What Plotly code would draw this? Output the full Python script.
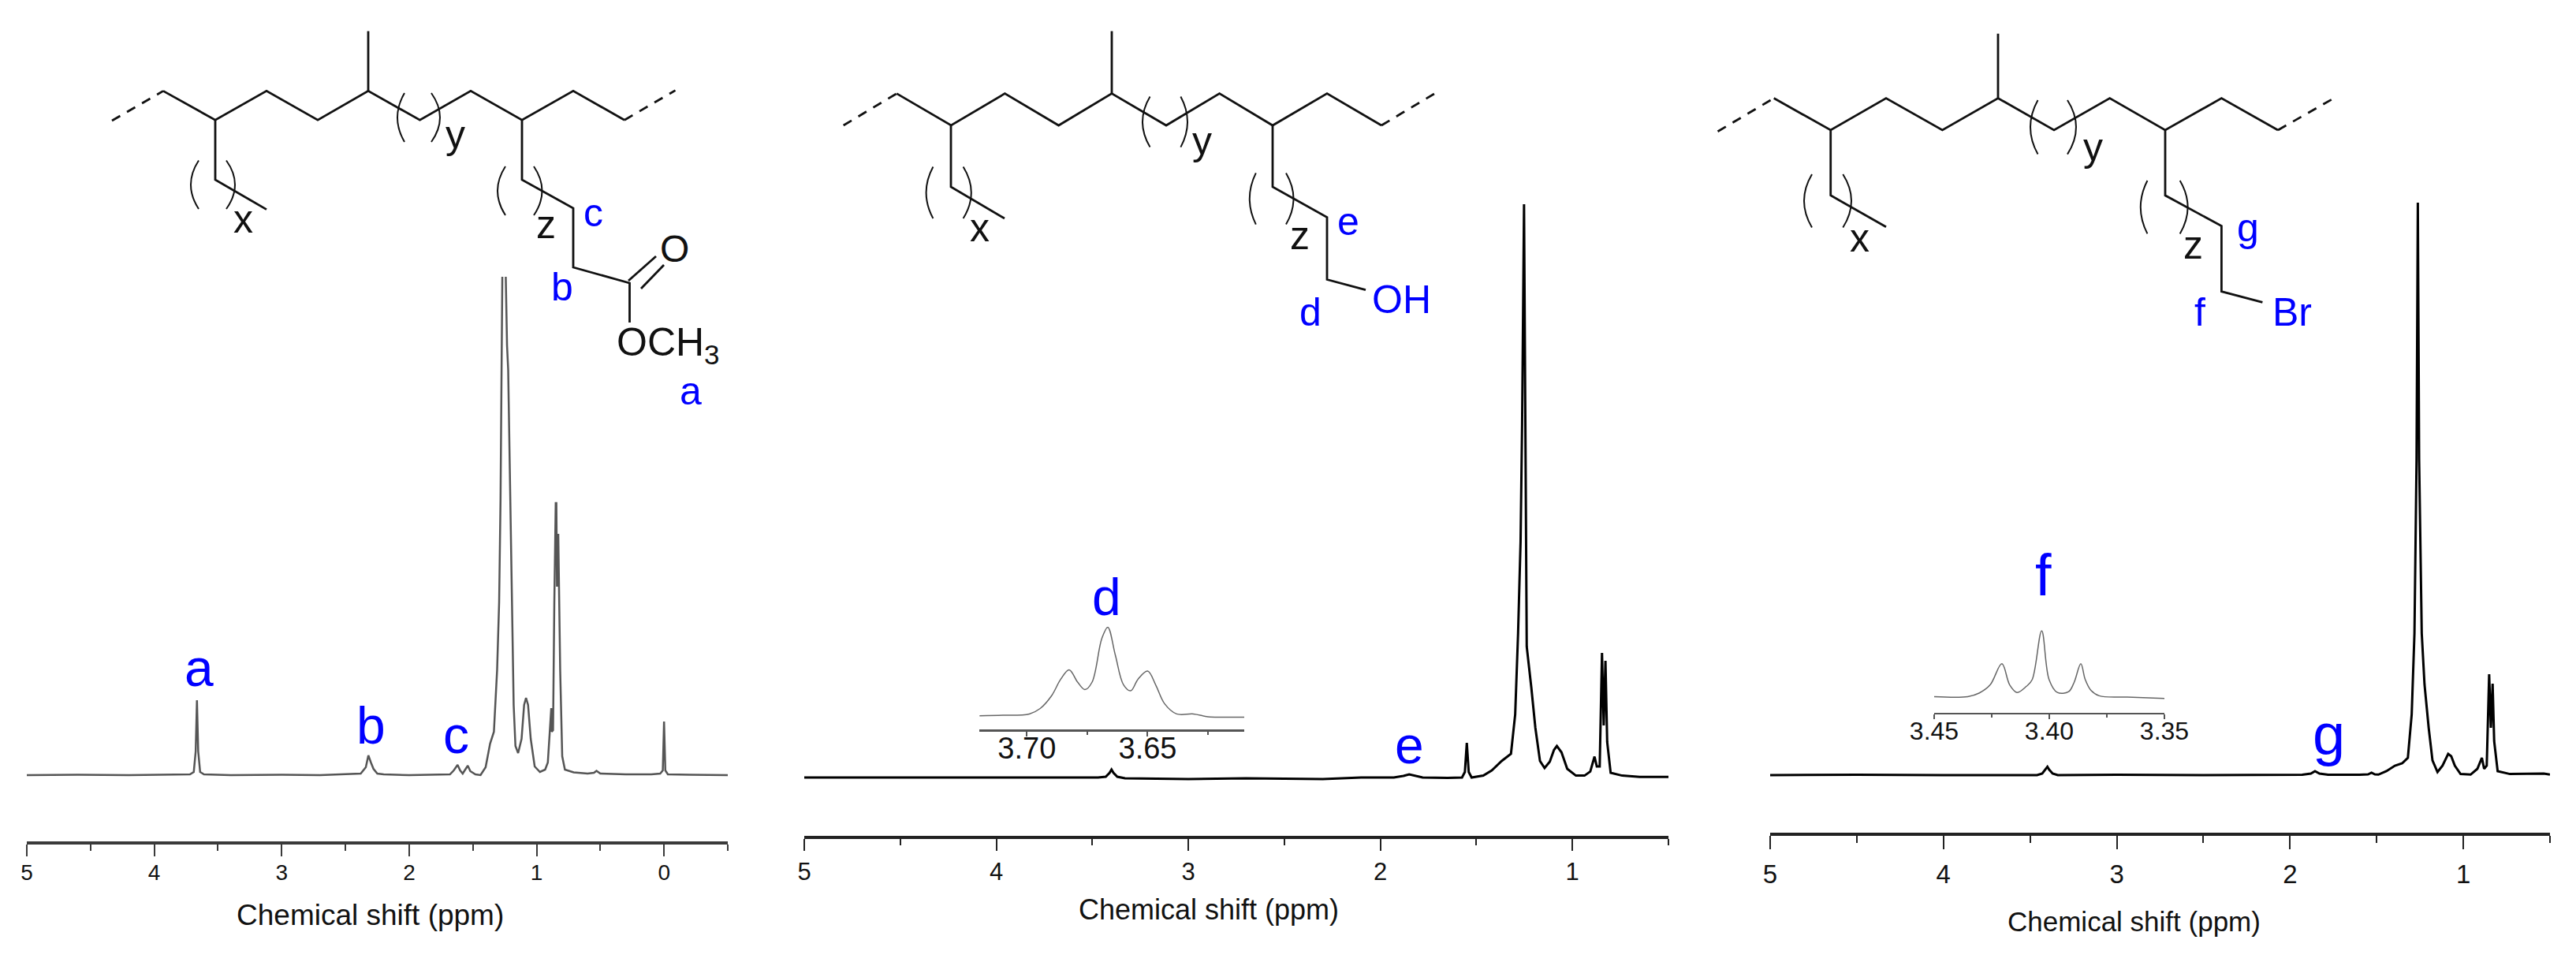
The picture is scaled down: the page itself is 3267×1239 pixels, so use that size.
import plotly.graph_objects as go

W, H = 3267, 1239
FONT = "Liberation Sans"
BLUE = "#0000ff"

# Спектр 1 (сложный эфир): ppm и интенсивность, None = пик обрезан сверху
ppm_ester = [5, 4.6, 4.2, 3.8, 3.72, 3.69, 3.675, 3.665, 3.655, 3.64, 3.61, 3.4, 3.0, 2.7, 2.45, 2.38, 2.34, 2.32, 2.30, 2.28,
             2.25, 2.2, 2.0, 1.8, 1.68, 1.65, 1.62, 1.60, 1.58, 1.56, 1.54, 1.52, 1.48, 1.44, 1.40, 1.365, 1.335, 1.31, 1.294,
             1.283, 1.273, 1.269, None, 1.242, 1.232, 1.223, 1.211, 1.197, 1.18, 1.166, 1.145, 1.118, 1.098, 1.083, 1.067,
             1.046, 1.015, 0.974, 0.933, 0.912, 0.898, 0.885, 0.881, 0.871, 0.861, 0.85, 0.845, 0.84, 0.836, 0.83, 0.824,
             0.815, 0.799, 0.778, 0.709, 0.6, 0.55, 0.53, 0.5, 0.3, 0.1, 0.03, 0.01, 0.0, -0.01, -0.03, -0.2, -0.5]
int_ester = [0, 0.5, 0, 0.5, 1, 4, 30, 95, 30, 4, 1, 0, 0.5, 0, 1, 2, 10, 25, 16, 8,
             2, 1, 0, 0.5, 1, 6, 13, 6, 2, 7, 12, 5, 1, 0, 10, 40, 55, 133, 219,
             349, 523, 632, None, 632, 545, 514, 393, 219, 89, 37, 28, 46, 89, 98, 89,
             46, 11, 4, 7, 16, 50, 85, 55, 57, 219, 345, 345, 239, 250, 306, 241,
             133, 24, 7, 3.5, 2, 3, 5.5, 2, 1, 1, 2, 6, 68, 6, 1, 0.5, 0]

# Спектр 2 (спирт)
ppm_oh = [5, 4.5, 4.0, 3.7, 3.47, 3.43, 3.41, 3.40, 3.39, 3.37, 3.33, 3.0, 2.7, 2.3, 2.1, 1.93, 1.88, 1.85, 1.82, 1.78, 1.65,
          1.575, 1.56, 1.55, 1.54, 1.525, 1.464, 1.42, 1.368, 1.32, 1.298, 1.283, 1.27, 1.262, 1.252, 1.245, 1.238, 1.214,
          1.193, 1.169, 1.145, 1.118, 1.096, 1.081, 1.057, 1.027, 0.982, 0.937, 0.907, 0.885, 0.873, 0.858, 0.846, 0.837,
          0.828, 0.819, 0.801, 0.741, 0.65, 0.5]
int_oh = [1, 1, 0.5, 1, 1, 2, 7, 11, 7, 2, 0, -1, 0, -1, 1, 1, 3, 5, 3, 1, 0.5,
          1, 8, 45, 8, 1, 3.4, 10, 22, 31, 81, 184, 300, 450, 728, 450, 167, 115,
          64, 22, 13, 21, 36, 41, 33, 12, 3.4, 3.4, 8.6, 27.5, 15, 15, 159, 67,
          149, 46, 7, 3.4, 1.7, 1.7]

# Спектр 3 (бромид)
ppm_br = [5, 4.5, 4.0, 3.6, 3.46, 3.43, 3.41, 3.40, 3.39, 3.37, 3.34, 3.0, 2.5, 2.1, 1.93, 1.88, 1.856, 1.83, 1.78, 1.6, 1.55, 1.53,
          1.51, 1.49, 1.444, 1.395, 1.353, 1.32, 1.298, 1.282, 1.27, 1.2626, 1.255, 1.24, 1.224, 1.2, 1.178, 1.149, 1.12,
          1.0875, 1.07, 1.049, 1.016, 0.958, 0.919, 0.893, 0.88, 0.865, 0.851, 0.841, 0.831, 0.822, 0.802, 0.731, 0.536, 0.5]
int_br = [0, 0.5, 0, 0.5, 0, 2, 7, 10.6, 7, 2, 0, 0.5, 0, 0.5, 0.5, 2, 5, 2, 0.5, 0.5, 1, 3,
          1, 0.7, 5, 12, 15, 22, 77, 180, 400, 726, 400, 180, 115, 60, 18.6, 4, 12,
          27, 24, 12, 1.4, 0.7, 8, 22, 8, 12, 128, 60, 116, 43, 5, 1.4, 2, 0.7]

# Врезка d (3.72-3.61 ppm)
ppm_inset_d = [3.7196, 3.71, 3.699, 3.6945, 3.6897, 3.686, 3.6825, 3.679, 3.676, 3.673, 3.669, 3.6665, 3.6634, 3.66,
               3.657, 3.654, 3.65, 3.6467, 3.643, 3.638, 3.631, 3.625, 3.619, 3.61]
int_inset_d = [17.2, 17.9, 19.6, 26.5, 43, 63.6, 75.6, 60, 50.5, 60, 115, 129.6, 94.5, 56.7,
               49, 63.6, 73.9, 56.7, 32.6, 19.6, 19.6, 16, 15.5, 15.5]

# Врезка f (3.45-3.35 ppm)
ppm_inset_f = [3.45, 3.4354, 3.4305, 3.4257, 3.4206, 3.4172, 3.414, 3.4099, 3.4074, 3.4033, 3.4001, 3.3965, 3.3916,
               3.3892, 3.3863, 3.3844, 3.3819, 3.3783, 3.3661, 3.35]
int_inset_f = [20.6, 20.6, 25, 35.4, 62.2, 35.4, 25.8, 33.7, 42.3, 104, 42.3, 25.8, 26.8,
               38.8, 62.2, 42.3, 28.5, 21.6, 20, 18.2]

main_ticks = [5, 4, 3, 2, 1, 0]
main_minor = [4.5, 3.5, 2.5, 1.5, 0.5, -0.5]

fig = go.Figure()
layout = {}


def add_axes(n, left, right, x_range, axis_px, top_px, y0, color, line_w, tick_font, standoff, ticks, labels, minor, tick_len, minor_len):
    suf = str(n)
    layout["xaxis" + suf] = dict(
        domain=[left / W, right / W], range=x_range, anchor="y" + suf, automargin=False,
        showgrid=False, zeroline=False, showline=True, linewidth=line_w, linecolor=color,
        ticks="outside", ticklen=tick_len, tickwidth=2, tickcolor=color, tickmode="array",
        tickvals=ticks, ticktext=labels, ticklabelstandoff=standoff,
        tickfont=dict(family=FONT, size=tick_font, color="#111111"),
        minor=dict(ticks="outside", tickmode="array", tickvals=minor, ticklen=minor_len, tickwidth=2, tickcolor=color),
    )
    layout["yaxis" + suf] = dict(
        domain=[(H - axis_px) / H, (H - top_px) / H], range=[y0, y0 + axis_px - top_px], anchor="x" + suf,
        automargin=False, visible=False, showgrid=False, zeroline=False,
    )


def add_line(n, x, y, color, width, shape="linear"):
    fig.add_trace(go.Scatter(x=x, y=y, mode="lines", xaxis="x" + str(n), yaxis="y" + str(n),
                             line=dict(color=color, width=width, shape=shape), showlegend=False, hoverinfo="skip"))


# Основные спектры
add_axes(1, 34, 923, [5, -0.5], 1067, 240, -84, "#3a3a3a", 4, 28, -4, main_ticks, [str(t) for t in main_ticks], main_minor, 15, 8)
add_axes(2, 1020, 2116, [5, 0.5], 1060, 240, -73, "#222222", 4, 31, 0, main_ticks[:5], [str(t) for t in main_ticks[:5]], main_minor[:5], 15, 8)
add_axes(3, 2245, 3234, [5, 0.5], 1056, 240, -73, "#222222", 4, 33, 3, main_ticks[:5], [str(t) for t in main_ticks[:5]], main_minor[:5], 17, 9)
add_line(1, ppm_ester, int_ester, "#555555", 2.5)
add_line(2, ppm_oh, int_oh, "#000000", 3)
add_line(3, ppm_br, int_br, "#000000", 3)

# Врезки
add_axes(4, 1242, 1578, [3.7197, 3.610], 925, 725, 0, "#555555", 2.5, 38, -17, [3.70, 3.65], ["3.70", "3.65"], [3.675, 3.625], 6, 4)
add_axes(5, 2453, 2745, [3.45, 3.35], 904, 700, 0, "#555555", 2, 32, -12, [3.45, 3.40, 3.35], ["3.45", "3.40", "3.35"], [3.425, 3.375], 6, 4)
add_line(4, ppm_inset_d, int_inset_d, "#666666", 1.5, "spline")
add_line(5, ppm_inset_f, int_inset_f, "#666666", 1.5, "spline")

# Холст для структурных формул, координаты в пикселях
layout["xaxis6"] = dict(domain=[0, 1], range=[0, W], anchor="y6", automargin=False, visible=False, showgrid=False, zeroline=False)
layout["yaxis6"] = dict(domain=[0, 1], range=[H, 0], anchor="x6", automargin=False, visible=False, showgrid=False, zeroline=False)


def bonds(points, dash="solid"):
    xs, ys = [], []
    for chain in points:
        xs += [p[0] for p in chain] + [None]
        ys += [p[1] for p in chain] + [None]
    fig.add_trace(go.Scatter(x=xs, y=ys, mode="lines", xaxis="x6", yaxis="y6", showlegend=False, hoverinfo="skip",
                             line=dict(color="#111111", width=2.8, dash=dash)))


shapes = []
annotations = []


def paren(x0, xb, y0, y1):
    cx = 2 * xb - x0
    shapes.append(dict(type="path", xref="x6", yref="y6", path=f"M {x0} {y0} Q {cx} {(y0 + y1) / 2} {x0} {y1}",
                       line=dict(color="#111111", width=2)))


def label(text, x, base, size, color="#111111"):
    annotations.append(dict(text=text, x=x, y=base - 0.3 * size, xref="x6", yref="y6", xanchor="center", yanchor="middle",
                            showarrow=False, font=dict(family=FONT, size=size, color=color)))


def structure(xs, hi, lo, dash_l, dash_r, top, left_chain, right_chain, par_x, par_y, par_z):
    chain = [(x, hi if i % 2 == 0 else lo) for i, x in enumerate(xs)]
    bonds([chain, [(xs[4], hi), (xs[4], top)], left_chain, right_chain])
    bonds([[dash_l, (xs[0], hi)], [(xs[-1], lo), dash_r]], dash="12px,10px")
    for p in (par_x, par_y, par_z):
        paren(p[0], p[1], p[4], p[5])
        paren(p[2], p[3], p[4], p[5])


structure([207, 273, 338, 403, 467, 532.5, 597, 662, 727, 792], 115.4, 152.2, (142, 153), (856.5, 114.6), 39.5,
          [(273, 152), (273, 228), (338, 265.6)],
          [(662, 152), (662, 228), (727, 264), (727, 339), (798.5, 359), (798.5, 409)],
          (252, 242, 287, 298, 203.5, 265), (513, 504, 547, 558, 118, 180), (641, 631, 677, 687.5, 211, 273))
bonds([[(797, 356), (832, 325)], [(813, 366), (842, 336)]])
structure([1137.2, 1206.2, 1274.4, 1342.6, 1410, 1479, 1546.6, 1614, 1683, 1752], 118.6, 159, (1069.7, 159), (1819.5, 118.6), 39.5,
          [(1206, 159), (1206, 237), (1274, 277)],
          [(1614, 159), (1614, 237), (1683, 275.5), (1683, 354.5), (1732, 367.6)],
          (1183.4, 1174.6, 1221.6, 1231.8, 211.5, 277), (1458.5, 1449, 1497.4, 1506, 122.5, 186.6), (1592.8, 1584.8, 1631, 1640.5, 219.4, 284.6))
structure([2249.7, 2321.7, 2392, 2463.4, 2534, 2605, 2675.7, 2746, 2817.4, 2889], 124.5, 165, (2178.5, 166.8), (2960, 124.5), 42.7,
          [(2321.7, 165), (2321.7, 247.8), (2392, 287.7)],
          [(2746, 165), (2746, 247.8), (2817.4, 286.6), (2817.4, 369.6), (2869.4, 383.4)],
          (2298, 2288, 2337.3, 2348, 221, 288.5), (2584.5, 2575, 2622, 2633, 127, 195.6), (2723.4, 2714.8, 2764.7, 2774.6, 229, 296.4))

# Подписи формул
label("x", 308, 292.5, 50)
label("y", 577, 186, 50)
label("z", 692, 299.6, 50)
label("c", 752.5, 284.6, 50, BLUE)
label("b", 713, 378.7, 50, BLUE)
label("a", 875.6, 510.7, 50, BLUE)
label("O", 855, 330, 48)
label("OCH<sub>3</sub>", 847, 452.6, 50)
label("x", 1242, 304, 50)
label("y", 1524.6, 193.7, 50)
label("z", 1648, 314, 50)
label("e", 1710, 296.4, 50, BLUE)
label("d", 1661.8, 411, 50, BLUE)
label("OH", 1777.7, 395, 50, BLUE)
label("x", 2358.7, 317.4, 50)
label("y", 2654, 201.6, 50)
label("z", 2781.8, 326, 50)
label("g", 2850.9, 304, 50, BLUE)
label("f", 2789.6, 411, 50, BLUE)
label("Br", 2907, 411, 50, BLUE)

# Метки пиков
label("a", 252, 867, 66, BLUE)
label("b", 470, 940, 66, BLUE)
label("c", 578, 952, 66, BLUE)
label("d", 1403, 777, 66, BLUE)
label("e", 1787, 965, 66, BLUE)
label("f", 2591.6, 752, 74, BLUE)
label("g", 2953, 954, 74, BLUE)

# Подписи осей
label("Chemical shift (ppm)", 469, 1172, 37)
label("Chemical shift (ppm)", 1533, 1164, 36)
label("Chemical shift (ppm)", 2706, 1179, 35)

fig.update_layout(width=W, height=H, margin=dict(l=0, r=0, t=0, b=0), paper_bgcolor="white", plot_bgcolor="rgba(0,0,0,0)",
                  showlegend=False, shapes=shapes, annotations=annotations, **layout)
fig.write_html("out.html", post_script="document.body.style.margin='0';", config={"displayModeBar": False})
